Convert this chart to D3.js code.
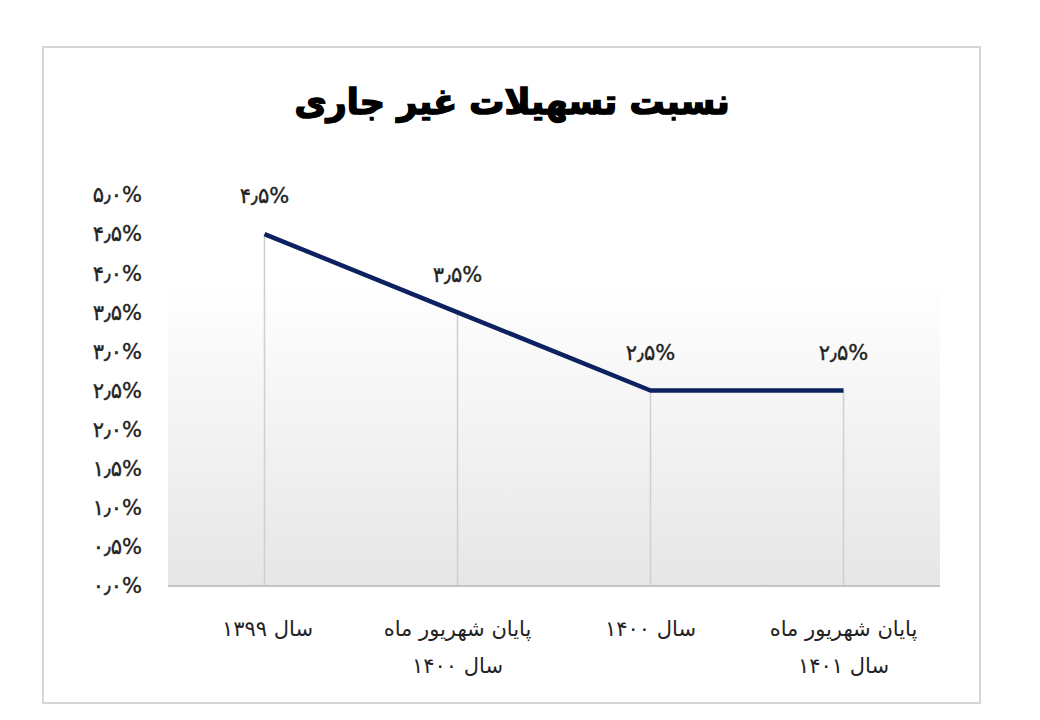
<!DOCTYPE html>
<html><head><meta charset="utf-8">
<script src="https://cdn.jsdelivr.net/npm/d3@7"></script>
<style>body{margin:0;background:#fff}svg{display:block}</style>
</head><body>
<script>
const title = "نسبت تسهیلات غیر جاری";
const categories = [["سال ۱۳۹۹"], ["پایان شهریور ماه", "سال ۱۴۰۰"], ["سال ۱۴۰۰"], ["پایان شهریور ماه", "سال ۱۴۰۱"]];
const values = [4.5, 3.5, 2.5, 2.5];
const valueLabels = ["۴٫۵%", "۳٫۵%", "۲٫۵%", "۲٫۵%"];
const yTicks = [0, 0.5, 1, 1.5, 2, 2.5, 3, 3.5, 4, 4.5, 5];
const yTickLabels = ["۰٫۰%", "۰٫۵%", "۱٫۰%", "۱٫۵%", "۲٫۰%", "۲٫۵%", "۳٫۰%", "۳٫۵%", "۴٫۰%", "۴٫۵%", "۵٫۰%"];

(function () {
const W = 1040, H = 720;
const svg = d3.select("body").append("svg").attr("width", W).attr("height", H);
const font = "'DejaVu Sans', sans-serif";

const defs = svg.append("defs");
const grad = defs.append("linearGradient").attr("id", "bg").attr("x1", 0).attr("y1", 0).attr("x2", 0).attr("y2", 1);
grad.append("stop").attr("offset", "0%").attr("stop-color", "#ffffff");
grad.append("stop").attr("offset", "22%").attr("stop-color", "#ffffff");
grad.append("stop").attr("offset", "100%").attr("stop-color", "#e6e6e6");

// outer frame
svg.append("rect").attr("x", 43).attr("y", 47).attr("width", 937).attr("height", 656)
  .attr("fill", "#fff").attr("stroke", "#d6d6d6").attr("stroke-width", 2);

const pL = 168, pR = 940, pT = 195, pB = 586;
const x = d3.scaleBand().domain(d3.range(categories.length)).range([pL, pR]);
const y = d3.scaleLinear().domain([0, 5]).range([pB, pT]);

// plot background
svg.append("rect").attr("x", pL).attr("y", pT).attr("width", pR - pL).attr("height", pB - pT)
  .attr("fill", "url(#bg)");

// title
svg.append("text").attr("x", 512).attr("y", 114).attr("text-anchor", "middle")
  .attr("font-family", font).attr("font-weight", "bold").attr("font-size", 35)
  .attr("fill", "#000").attr("stroke", "#000").attr("stroke-width", 1.6)
  .attr("direction", "rtl").text(title);

// y tick labels
svg.append("g").selectAll("text").data(yTicks).join("text")
  .attr("x", 142).attr("y", d => y(d)).attr("dy", "0.35em").attr("text-anchor", "end")
  .attr("font-family", font).attr("font-size", 21).attr("fill", "#222")
  .attr("stroke", "#222").attr("stroke-width", 0.4)
  .text((d, i) => yTickLabels[i]);

const cx = i => x(i) + x.bandwidth() / 2;

// drop lines
svg.append("g").selectAll("line").data(values).join("line")
  .attr("x1", (d, i) => cx(i)).attr("x2", (d, i) => cx(i))
  .attr("y1", d => y(d)).attr("y2", pB)
  .attr("stroke", "#cfcfcf").attr("stroke-width", 1.5);

// baseline
svg.append("line").attr("x1", pL).attr("x2", pR).attr("y1", pB).attr("y2", pB)
  .attr("stroke", "#c4c4c4").attr("stroke-width", 2);

// line
const line = d3.line().x((d, i) => cx(i)).y(d => y(d));
svg.append("path").datum(values).attr("d", line).attr("fill", "none")
  .attr("stroke", "#0c2260").attr("stroke-width", 4.5).attr("stroke-linejoin", "round");

// value labels
svg.append("g").selectAll("text").data(values).join("text")
  .attr("x", (d, i) => cx(i)).attr("y", d => y(d) - 38).attr("dy", "0.35em").attr("text-anchor", "middle")
  .attr("font-family", font).attr("font-size", 21).attr("fill", "#222")
  .attr("stroke", "#222").attr("stroke-width", 0.4)
  .text((d, i) => valueLabels[i]);

// category labels
const cg = svg.append("g");
categories.forEach((lines, i) => {
  lines.forEach((t, j) => {
    cg.append("text").attr("x", cx(i) + (i === 0 ? 3 : 0)).attr("y", 629 + j * 37).attr("dy", "0.35em")
      .attr("text-anchor", "middle").attr("direction", "rtl")
      .attr("font-family", font).attr("font-size", 21).attr("fill", "#222").text(t);
  });
});
})();
</script>
</body></html>
